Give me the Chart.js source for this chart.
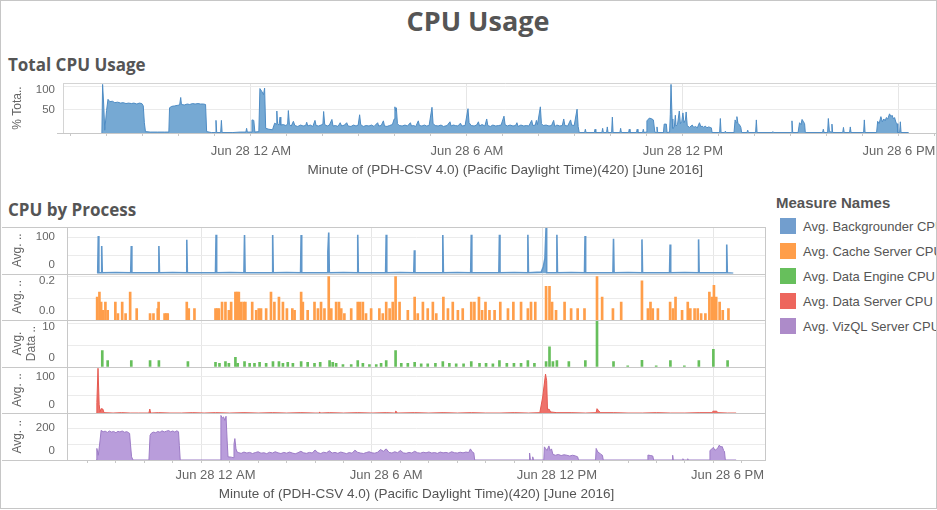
<!DOCTYPE html>
<html>
<head>
<meta charset="utf-8">
<title>CPU Usage</title>
<script src="https://cdn.jsdelivr.net/npm/chart.js@4.4.1/dist/chart.umd.min.js"></script>
<style>
  html, body { margin: 0; padding: 0; background: #fff; }
  #page { position: relative; width: 937px; height: 510px; overflow: hidden; font-family: "Liberation Sans", Arial, sans-serif; color: #555; }
  #edge { position: absolute; left: 0; top: 0; width: 937px; height: 509px; box-sizing: border-box; border: 1px solid #c6c6c6; pointer-events: none; }
  .title { position: absolute; font-family: "Open Sans", sans-serif; font-weight: bold; color: #555; white-space: nowrap; }
  #mainTitle { left: 0; width: 956px; top: 4px; text-align: center; font-size: 27px; line-height: 34px; }
  #totalTitle { left: 8px; top: 55px; font-size: 17px; line-height: 20px; }
  #procTitle { left: 8px; top: 200px; font-size: 17px; line-height: 20px; }
  canvas { position: absolute; left: 0; }
  #totalChart { top: 70px; }
  #procChart { top: 220px; }
  #legend { position: absolute; left: 776px; top: 194px; width: 200px; white-space: nowrap; }
  #legend .head { font-weight: bold; font-size: 15px; line-height: 18px; color: #555; }
  #legend .item { position: relative; height: 25px; line-height: 25px; font-size: 13px; color: #555; padding-left: 27px; }
  #legend .sw { position: absolute; left: 4px; top: 4px; width: 16px; height: 16px; }
  #legend .first { margin-top: 2px; }
</style>
</head>
<body>
<div id="page">
  <div id="mainTitle" class="title">CPU Usage</div>
  <div id="totalTitle" class="title">Total CPU Usage</div>
  <canvas id="totalChart" width="950" height="110"></canvas>
  <div id="procTitle" class="title">CPU by Process</div>
  <canvas id="procChart" width="770" height="290"></canvas>
  <div id="legend"></div>
  <div id="edge"></div>
</div>
<script>
// --- DATA (x = hours from Jun 28 12 AM, y = value) ---
const xMin = -5.22;
const xMax = 19.35;
const hourTicks = [-5, -4, -3, -2, -1, 0, 1, 2, 3, 4, 5, 6, 7, 8, 9, 10, 11, 12, 13, 14, 15, 16, 17, 18, 19];
const majorHours = [0, 6, 12, 18];
const majorLabels = ['Jun 28 12 AM', 'Jun 28 6 AM', 'Jun 28 12 PM', 'Jun 28 6 PM'];
const xTitle = 'Minute of (PDH-CSV 4.0) (Pacific Daylight Time)(420) [June 2016]';
const seriesNames = ['Avg. Backgrounder CPU', 'Avg. Cache Server CPU', 'Avg. Data Engine CPU', 'Avg. Data Server CPU', 'Avg. VizQL Server CPU'];

const totalCpu = [
  [-4.14, 0], [-4.12, 104], [-4.09, 62], [-4.06, 6], [-4.01, 48], [-3.97, 72], [-3.92, 67], [-3.85, 68],
  [-3.78, 65], [-3.7, 66], [-3.62, 64], [-3.55, 65], [-3.47, 63], [-3.4, 64], [-3.32, 63], [-3.25, 64],
  [-3.17, 62], [-3.1, 64], [-3.03, 63], [-2.99, 58], [-2.96, 22], [-2.93, 3], [-2.8, 2], [-2.6, 2],
  [-2.4, 2], [-2.28, 2], [-2.26, 54], [-2.2, 57], [-2.12, 58], [-2.05, 59], [-1.98, 60], [-1.95, 76],
  [-1.93, 61], [-1.85, 60], [-1.77, 62], [-1.7, 61], [-1.62, 63], [-1.55, 62], [-1.47, 63], [-1.4, 62],
  [-1.32, 62], [-1.26, 61], [-1.23, 3], [-1.1, 1], [-0.99, 1], [-0.97, 27], [-0.95, 1], [-0.84, 1],
  [-0.82, 27], [-0.8, 1], [-0.5, 1], [-0.3, 2], [-0.14, 2], [-0.12, 10], [-0.1, 2], [0.01, 2],
  [0.03, 28], [0.08, 27], [0.11, 2], [0.22, 3], [0.25, 95], [0.31, 88], [0.35, 82], [0.38, 96],
  [0.41, 10], [0.5, 8], [0.6, 7], [0.66, 21], [0.7, 19], [0.72, 47], [0.74, 20], [0.78, 17],
  [0.81, 34], [0.83, 17], [0.9, 18], [0.97, 16], [1.02, 19], [1.04, 48], [1.07, 18], [1.12, 15],
  [1.18, 25], [1.22, 16], [1.3, 14], [1.38, 17], [1.45, 15], [1.52, 16], [1.55, 23], [1.58, 15],
  [1.65, 17], [1.72, 14], [1.78, 27], [1.81, 16], [1.88, 15], [1.95, 17], [2.0, 19], [2.02, 46],
  [2.05, 18], [2.12, 15], [2.18, 17], [2.25, 29], [2.28, 15], [2.35, 16], [2.42, 14], [2.48, 22],
  [2.52, 15], [2.6, 17], [2.66, 22], [2.7, 15], [2.78, 14], [2.85, 17], [2.92, 15], [2.98, 17],
  [3.02, 39], [3.05, 18], [3.12, 14], [3.2, 16], [3.28, 15], [3.35, 17], [3.42, 14], [3.52, 22],
  [3.55, 15], [3.62, 16], [3.68, 26], [3.71, 15], [3.78, 14], [3.85, 16], [3.93, 18], [3.98, 30],
  [4.0, 56], [4.02, 48], [4.04, 54], [4.07, 20], [4.12, 16], [4.2, 15], [4.28, 17], [4.35, 15],
  [4.43, 22], [4.46, 15], [4.52, 16], [4.58, 14], [4.65, 26], [4.68, 16], [4.75, 15], [4.82, 17],
  [4.88, 15], [4.95, 16], [5.03, 55], [5.06, 20], [5.12, 16], [5.2, 15], [5.28, 17], [5.35, 14],
  [5.45, 16], [5.53, 24], [5.56, 15], [5.62, 17], [5.68, 16], [5.75, 15], [5.82, 21], [5.86, 15],
  [5.95, 16], [6.03, 52], [6.06, 22], [6.12, 16], [6.2, 15], [6.27, 17], [6.32, 24], [6.35, 15],
  [6.42, 18], [6.5, 15], [6.55, 30], [6.58, 16], [6.65, 14], [6.72, 17], [6.8, 15], [6.88, 16],
  [6.95, 17], [7.03, 36], [7.06, 18], [7.12, 15], [7.2, 17], [7.28, 15], [7.35, 16], [7.39, 22],
  [7.42, 14], [7.5, 17], [7.58, 15], [7.65, 16], [7.72, 15], [7.8, 27], [7.83, 16], [7.9, 17],
  [7.93, 27], [7.96, 18], [8.04, 56], [8.07, 20], [8.12, 16], [8.2, 17], [8.28, 15], [8.35, 16],
  [8.41, 27], [8.44, 14], [8.5, 17], [8.58, 15], [8.65, 16], [8.69, 30], [8.72, 16], [8.8, 15],
  [8.88, 28], [8.91, 17], [8.98, 16], [9.06, 51], [9.09, 14], [9.12, 1], [9.27, 1], [9.29, 8],
  [9.31, 1], [9.54, 1], [9.56, 8], [9.58, 1], [9.75, 1], [9.77, 10], [9.79, 1], [9.88, 1],
  [9.9, 13], [9.92, 1], [10.02, 1], [10.04, 34], [10.06, 1], [10.25, 1], [10.27, 10], [10.29, 1],
  [10.49, 1], [10.51, 8], [10.53, 1], [10.71, 1], [10.73, 8], [10.75, 1], [10.88, 1], [10.9, 8],
  [10.92, 1], [10.98, 2], [11.0, 26], [11.07, 32], [11.14, 30], [11.18, 28], [11.22, 2], [11.26, 1],
  [11.28, 13], [11.3, 1], [11.46, 1], [11.48, 19], [11.54, 19], [11.56, 1], [11.63, 2], [11.65, 40],
  [11.67, 104], [11.7, 30], [11.72, 10], [11.76, 12], [11.79, 38], [11.81, 15], [11.85, 18], [11.9, 47],
  [11.93, 20], [11.97, 25], [12.0, 43], [12.03, 22], [12.07, 28], [12.09, 45], [12.12, 16], [12.18, 12],
  [12.26, 17], [12.3, 12], [12.35, 14], [12.4, 11], [12.46, 22], [12.5, 13], [12.53, 15], [12.58, 12],
  [12.62, 15], [12.67, 11], [12.71, 13], [12.76, 12], [12.79, 11], [12.81, 1], [13.02, 1], [13.04, 31],
  [13.06, 1], [13.16, 1], [13.18, 4], [13.2, 1], [13.42, 1], [13.45, 28], [13.48, 22], [13.5, 35],
  [13.53, 20], [13.57, 18], [13.61, 12], [13.63, 1], [13.78, 1], [13.8, 6], [13.82, 1], [14.02, 1],
  [14.04, 28], [14.06, 1], [14.48, 1], [14.5, 3], [14.52, 1], [15.01, 1], [15.03, 26], [15.05, 1],
  [15.2, 1], [15.24, 22], [15.28, 18], [15.31, 29], [15.35, 24], [15.38, 20], [15.4, 1], [15.88, 1],
  [15.9, 8], [15.92, 1], [16.02, 1], [16.04, 31], [16.07, 3], [16.12, 2], [16.14, 19], [16.16, 1],
  [16.44, 1], [16.46, 12], [16.48, 1], [16.63, 1], [16.65, 13], [16.67, 1], [17.02, 1], [17.04, 28],
  [17.06, 1], [17.38, 1], [17.41, 25], [17.45, 20], [17.5, 35], [17.54, 24], [17.58, 30], [17.62, 26],
  [17.65, 33], [17.69, 30], [17.74, 41], [17.78, 35], [17.81, 38], [17.85, 30], [17.88, 33], [17.92, 22],
  [17.95, 20], [17.97, 1], [18.02, 1], [18.04, 24], [18.06, 1], [18.27, 1]
];

const backgrounderCpu = [
  [-4.16, 0], [-4.14, 2], [-4.12, 103], [-4.1, 2], [-4.02, 2], [-4.0, 76], [-3.98, 2], [-3.5, 3],
  [-2.98, 2], [-2.96, 76], [-2.94, 2], [-2.5, 2], [-2.01, 2], [-1.99, 76], [-1.97, 2], [-1.5, 3],
  [-1.03, 2], [-1.01, 93], [-0.99, 2], [-0.5, 2], [0.0, 2], [0.02, 107], [0.04, 2], [0.5, 3],
  [1.0, 2], [1.02, 106], [1.04, 2], [1.5, 2], [1.99, 2], [2.01, 106], [2.03, 2], [2.5, 3],
  [2.99, 2], [3.01, 106], [3.03, 2], [3.5, 2], [3.93, 2], [3.95, 60], [3.98, 113], [4.0, 2],
  [4.5, 3], [4.98, 2], [5.0, 107], [5.02, 2], [5.5, 2], [5.98, 2], [6.0, 107], [6.02, 2],
  [6.5, 3], [6.97, 2], [6.99, 64], [7.01, 2], [7.5, 2], [7.97, 2], [7.99, 106], [8.01, 2],
  [8.5, 3], [8.97, 2], [8.99, 107], [9.01, 2], [9.5, 2], [9.96, 2], [9.98, 107], [10.0, 2],
  [10.5, 3], [10.96, 2], [10.98, 107], [11.0, 2], [11.45, 4], [11.52, 18], [11.58, 42], [11.62, 126],
  [11.64, 2], [11.98, 2], [12.0, 107], [12.02, 2], [12.5, 3], [12.97, 2], [12.99, 103], [13.01, 2],
  [13.5, 2], [13.97, 2], [13.99, 96], [14.01, 2], [14.5, 3], [14.97, 2], [14.99, 94], [15.01, 2],
  [15.5, 2], [15.96, 2], [15.98, 80], [16.0, 2], [16.5, 3], [16.96, 2], [16.98, 94], [17.0, 2],
  [17.5, 2], [17.95, 2], [17.97, 80], [17.99, 2], [18.2, 1]
];

const cacheServerCpu = [
  [-4.16, 0.106], [-4.08, 0.129], [-4.02, 0.083], [-3.96, 0.045], [-3.87, 0.083], [-3.79, 0.045],
  [-3.52, 0.083], [-3.43, 0.03], [-3.28, 0.083], [-3.16, 0.03], [-3.0, 0.129], [-2.77, 0.053],
  [-2.3, 0.03], [-2.18, 0.03], [-2.03, 0.053], [-2.0, 0.083], [-1.79, 0.03], [-1.73, 0.03],
  [-1.68, 0.03], [-1.01, 0.083], [-0.94, 0.053], [-0.74, 0.053], [0.0, 0.053], [0.06, 0.053],
  [0.12, 0.053], [0.23, 0.083], [0.35, 0.083], [0.47, 0.045], [0.55, 0.083], [0.7, 0.129],
  [0.76, 0.129], [0.82, 0.129], [0.9, 0.083], [0.99, 0.083], [1.05, 0.083], [1.29, 0.083],
  [1.43, 0.045], [1.52, 0.053], [1.6, 0.053], [1.78, 0.053], [1.95, 0.129], [2.07, 0.083],
  [2.23, 0.106], [2.37, 0.083], [2.51, 0.053], [2.7, 0.053], [2.78, 0.045], [3.01, 0.129],
  [3.07, 0.083], [3.24, 0.045], [3.48, 0.083], [3.6, 0.053], [3.71, 0.083], [3.83, 0.053],
  [3.98, 0.2], [4.07, 0.053], [4.24, 0.083], [4.34, 0.083], [4.42, 0.053], [4.53, 0.03],
  [4.77, 0.053], [5.0, 0.083], [5.08, 0.083], [5.18, 0.083], [5.29, 0.03], [5.47, 0.053],
  [5.76, 0.053], [5.88, 0.03], [6.0, 0.083], [6.12, 0.053], [6.23, 0.083], [6.33, 0.2],
  [6.47, 0.083], [6.76, 0.045], [7.0, 0.106], [7.11, 0.03], [7.29, 0.083], [7.46, 0.053],
  [7.64, 0.083], [7.76, 0.03], [8.01, 0.106], [8.17, 0.053], [8.34, 0.083], [8.52, 0.045],
  [8.69, 0.053], [8.99, 0.083], [9.1, 0.083], [9.26, 0.106], [9.37, 0.045], [9.49, 0.083],
  [9.63, 0.045], [9.81, 0.045], [10.01, 0.083], [10.28, 0.053], [10.47, 0.083], [10.74, 0.083],
  [10.98, 0.053], [11.09, 0.083], [11.24, 0.083], [11.62, 0.155], [11.74, 0.155], [11.83, 0.083],
  [11.97, 0.045], [12.27, 0.083], [12.5, 0.053], [12.73, 0.053], [12.97, 0.053], [13.41, 0.2],
  [13.59, 0.106], [13.97, 0.053], [14.26, 0.083], [14.99, 0.18], [15.2, 0.053], [15.29, 0.083],
  [15.37, 0.053], [15.55, 0.053], [15.98, 0.083], [16.08, 0.053], [16.17, 0.106], [16.4, 0.045],
  [16.6, 0.083], [16.69, 0.053], [16.84, 0.053], [16.95, 0.053], [17.07, 0.03], [17.22, 0.03],
  [17.36, 0.129], [17.45, 0.106], [17.52, 0.16], [17.6, 0.106], [17.72, 0.083], [17.83, 0.045],
  [18.03, 0.053]
];

const dataEngineCpu = [
  [-3.98, 3.7], [-3.79, 1.4], [-2.96, 1.4], [-2.3, 1.4], [-1.99, 1.4], [-0.97, 1.2], [0.0, 1.0],
  [0.14, 0.8], [0.35, 1.2], [0.47, 0.8], [0.7, 2.2], [0.78, 0.8], [1.02, 1.2], [1.2, 0.8],
  [1.37, 0.8], [1.55, 1.0], [1.78, 0.8], [2.02, 1.2], [2.23, 1.2], [2.37, 0.8], [2.54, 1.0],
  [2.72, 0.8], [3.01, 1.2], [3.24, 1.0], [3.48, 0.8], [3.68, 1.0], [4.01, 1.4], [4.12, 1.0],
  [4.24, 0.8], [4.48, 0.5], [4.77, 0.5], [5.0, 1.4], [5.18, 0.8], [5.41, 0.5], [5.65, 0.5],
  [5.82, 0.8], [6.0, 1.4], [6.33, 3.7], [6.53, 0.8], [6.76, 0.8], [7.0, 1.0], [7.23, 0.7],
  [7.46, 0.7], [7.73, 0.8], [7.99, 1.2], [8.22, 0.8], [8.46, 0.7], [8.72, 0.7], [8.99, 1.2],
  [9.28, 0.8], [9.51, 0.8], [9.75, 0.7], [9.98, 1.4], [10.24, 0.8], [10.49, 0.8], [10.74, 0.8],
  [10.98, 1.4], [11.21, 0.8], [11.62, 1.2], [11.74, 4.6], [11.86, 1.2], [12.0, 1.4], [12.42, 1.2],
  [13.0, 1.4], [13.41, 10.6], [13.99, 1.2], [14.49, 0.2], [14.99, 1.5], [15.49, 0.2], [15.99, 1.4],
  [16.48, 0.2], [16.99, 1.4], [17.5, 4.0], [18.0, 1.4]
];

const dataServerCpu = [
  [-4.2, 0], [-4.17, 30], [-4.13, 124], [-4.09, 25], [-4.06, 4], [-4.02, 13], [-3.96, 12], [-3.92, 2],
  [-3.6, 1], [-3.3, 2], [-3.0, 1], [-2.7, 1], [-2.34, 1], [-2.31, 12], [-2.28, 1], [-2.0, 2],
  [-1.6, 1], [-1.2, 1], [-0.8, 2], [-0.4, 1], [0.0, 2], [0.5, 1], [1.0, 2], [1.5, 1],
  [2.0, 2], [2.5, 1], [3.0, 2], [3.5, 1], [3.64, 1], [3.66, 4], [3.68, 1], [4.0, 2],
  [4.5, 1], [5.0, 2], [5.5, 1], [6.0, 2], [6.31, 1], [6.33, 6], [6.36, 5], [6.38, 1],
  [7.0, 2], [7.5, 1], [8.0, 2], [8.5, 1], [9.0, 2], [9.5, 1], [10.0, 1], [10.5, 2],
  [11.0, 1], [11.4, 2], [11.5, 45], [11.6, 108], [11.64, 90], [11.67, 10], [11.72, 12], [11.78, 4],
  [12.0, 2], [12.5, 2], [13.0, 1], [13.38, 2], [13.41, 13], [13.46, 8], [13.5, 5], [13.54, 2],
  [14.0, 2], [14.5, 1], [15.0, 1], [15.5, 2], [16.0, 1], [16.5, 1], [17.0, 2], [17.46, 2],
  [17.48, 6], [17.62, 6], [17.65, 2], [18.0, 1], [18.3, 1]
];

const vizqlServerCpu = [
  [-4.2, 0], [-4.17, 73], [-4.12, 30], [-4.06, 120], [-4.02, 187], [-3.95, 178], [-3.88, 182], [-3.8, 174],
  [-3.73, 183], [-3.66, 176], [-3.58, 180], [-3.5, 172], [-3.43, 181], [-3.36, 177], [-3.28, 183], [-3.2, 175],
  [-3.12, 179], [-3.05, 172], [-3.02, 168], [-2.99, 100], [-2.95, 20], [-2.9, 0], [-2.34, 0], [-2.3, 156],
  [-2.25, 170], [-2.18, 176], [-2.1, 172], [-2.03, 180], [-1.95, 175], [-1.88, 184], [-1.8, 177], [-1.72, 182],
  [-1.65, 186], [-1.58, 178], [-1.5, 183], [-1.43, 176], [-1.36, 184], [-1.3, 178], [-1.27, 90], [-1.24, 0],
  [0.16, 0], [0.19, 281], [0.24, 265], [0.28, 272], [0.33, 250], [0.37, 276], [0.41, 120], [0.44, 20],
  [0.55, 18], [0.62, 15], [0.65, 100], [0.68, 135], [0.72, 70], [0.76, 50], [0.82, 46], [0.9, 42],
  [1.0, 50], [1.1, 44], [1.2, 48], [1.3, 41], [1.4, 47], [1.5, 52], [1.6, 43], [1.7, 46],
  [1.8, 40], [1.9, 49], [2.0, 44], [2.1, 52], [2.2, 45], [2.3, 41], [2.4, 48], [2.5, 43],
  [2.6, 50], [2.7, 44], [2.8, 39], [2.9, 46], [3.0, 55], [3.1, 45], [3.2, 42], [3.3, 48],
  [3.4, 44], [3.5, 63], [3.6, 46], [3.7, 41], [3.8, 49], [3.9, 45], [4.0, 58], [4.1, 44],
  [4.2, 48], [4.3, 42], [4.4, 50], [4.5, 46], [4.6, 40], [4.7, 47], [4.8, 43], [4.9, 62],
  [5.0, 48], [5.1, 44], [5.2, 41], [5.3, 47], [5.4, 52], [5.5, 45], [5.6, 43], [5.7, 49],
  [5.8, 66], [5.9, 55], [6.0, 70], [6.1, 48], [6.2, 44], [6.3, 52], [6.4, 46], [6.5, 60],
  [6.6, 45], [6.7, 42], [6.8, 48], [6.9, 44], [7.0, 55], [7.1, 46], [7.2, 43], [7.3, 49],
  [7.4, 45], [7.5, 51], [7.6, 44], [7.7, 47], [7.8, 42], [7.9, 50], [8.0, 45], [8.1, 48],
  [8.2, 43], [8.3, 52], [8.4, 46], [8.5, 44], [8.6, 49], [8.7, 45], [8.8, 50], [8.9, 47],
  [8.96, 70], [9.02, 52], [9.08, 45], [9.11, 0], [11.02, 0], [11.04, 44], [11.07, 0], [11.13, 0],
  [11.15, 20], [11.18, 0], [11.54, 0], [11.56, 83], [11.6, 73], [11.65, 60], [11.72, 89], [11.76, 60],
  [11.81, 70], [11.86, 35], [11.95, 30], [12.05, 35], [12.15, 28], [12.25, 33], [12.35, 30], [12.45, 25],
  [12.55, 30], [12.65, 26], [12.73, 20], [12.76, 0], [13.36, 0], [13.38, 73], [13.44, 50], [13.5, 44],
  [13.55, 35], [13.6, 30], [13.63, 0], [15.18, 0], [15.2, 31], [15.3, 28], [15.37, 25], [15.4, 0],
  [16.05, 0], [16.07, 30], [16.09, 0], [16.41, 0], [16.43, 8], [16.45, 0], [16.58, 0], [16.6, 8],
  [16.62, 0], [17.36, 0], [17.38, 60], [17.45, 70], [17.5, 80], [17.55, 62], [17.6, 65], [17.66, 78],
  [17.71, 94], [17.76, 82], [17.81, 85], [17.86, 60], [17.89, 55], [17.92, 0], [18.3, 0]
];

// --- STYLE ---
const palette = ['#729ece', '#ff9e4a', '#67bf5c', '#ed665d', '#ad8bc9'];
const gridColor = '#ebebeb';
const frameColor = '#c8c8c8';

Chart.defaults.font.family = '"Liberation Sans", Arial, sans-serif';
Chart.defaults.color = '#666';
Chart.defaults.animation = false;

const toXY = pts => pts.map(([x, y]) => ({ x, y }));
const crisp = v => Math.round(v) + 0.5;

function hourAxis(tickPad, titlePad, height) {
    return {
        type: 'linear',
        min: xMin,
        max: xMax,
        offset: false,
        afterBuildTicks: s => { s.ticks = hourTicks.map(v => ({ value: v })); },
        afterFit: s => { s.height = height; },
        grid: {
            color: c => majorHours.includes(c.tick && c.tick.value) ? '#e6e6e6' : 'rgba(0,0,0,0)',
            tickColor: frameColor,
            tickLength: 3
        },
        border: { display: false },
        ticks: {
            autoSkip: false,
            maxRotation: 0,
            minRotation: 0,
            padding: tickPad,
            color: '#666',
            font: { size: 13 },
            callback: v => {
                const i = majorHours.indexOf(v);
                return i < 0 ? '' : majorLabels[i];
            }
        },
        title: { display: true, text: xTitle, color: '#555', font: { size: 13.5 }, padding: { top: 0, bottom: titlePad } }
    };
}

function valueAxis(max, gridValues, title, width, extra) {
    return Object.assign({
        type: 'linear',
        position: 'left',
        min: 0,
        max: max,
        afterBuildTicks: s => { s.ticks = gridValues.map(v => ({ value: v })); },
        afterFit: s => { s.width = width; },
        grid: { color: gridColor, drawTicks: false },
        border: { display: false },
        ticks: { display: false },
        title: { display: true, text: title, color: '#666', font: { size: 12 }, padding: { top: 10, bottom: 0 } }
    }, extra || {});
}

// y tick labels kept inside each panel, like the original
function drawValueLabels(chart, labels) {
    const ctx = chart.ctx;
    ctx.font = '11.5px "Liberation Sans", Arial, sans-serif';
    ctx.fillStyle = '#666';
    ctx.textAlign = 'right';
    ctx.textBaseline = 'middle';
    labels.forEach(([id, texts]) => {
        const s = chart.scales[id];
        texts.forEach(t => {
            const y = Math.min(Math.max(s.getPixelForValue(Number(t)), s.top + 7), s.bottom - 9);
            ctx.fillText(t, 55, y);
        });
    });
}

const totalFrame = {
    id: 'totalFrame',
    afterDraw(chart) {
        const { ctx, chartArea: a } = chart;
        ctx.save();
        drawValueLabels(chart, [['y', ['50', '100']]]);
        ctx.strokeStyle = '#d4d4d4';
        ctx.lineWidth = 1;
        ctx.beginPath();
        ctx.moveTo(a.left, crisp(a.top)); ctx.lineTo(a.right, crisp(a.top));
        ctx.moveTo(crisp(a.left), a.top); ctx.lineTo(crisp(a.left), a.bottom);
        ctx.stroke();
        ctx.strokeStyle = frameColor;
        ctx.beginPath();
        ctx.moveTo(a.left - 6, crisp(a.bottom)); ctx.lineTo(a.right, crisp(a.bottom));
        ctx.stroke();
        ctx.restore();
    }
};

const procFrame = {
    id: 'procFrame',
    afterDraw(chart) {
        const { ctx, chartArea: a } = chart;
        ctx.save();
        drawValueLabels(chart, [
            ['y1', ['0', '100']], ['y2', ['0.0', '0.2']], ['y3', ['0', '10']], ['y4', ['0', '100']], ['y5', ['0', '200']]
        ]);
        ctx.strokeStyle = frameColor;
        ctx.lineWidth = 1;
        ctx.beginPath();
        ['y1', 'y2', 'y3', 'y4', 'y5'].forEach((id, i) => {
            const s = chart.scales[id];
            if (i === 0) { ctx.moveTo(2, crisp(s.top)); ctx.lineTo(a.right, crisp(s.top)); }
            ctx.moveTo(2, crisp(s.bottom)); ctx.lineTo(a.right, crisp(s.bottom));
        });
        ctx.moveTo(crisp(a.left), a.top); ctx.lineTo(crisp(a.left), a.bottom);
        ctx.moveTo(crisp(a.right) - 1, a.top); ctx.lineTo(crisp(a.right) - 1, a.bottom);
        ctx.stroke();
        ctx.restore();
    }
};

function areaSet(pts, axis, fill, line, width) {
    return { type: 'line', data: toXY(pts), yAxisID: axis, backgroundColor: fill, borderColor: line,
             borderWidth: width || 1, pointRadius: 0, tension: 0, fill: 'origin' };
}
function barSet(pts, axis, color) {
    return { type: 'bar', data: toXY(pts), yAxisID: axis, backgroundColor: color, barThickness: 2, grouped: false };
}

// --- TOTAL CPU ---
new Chart(document.getElementById('totalChart'), {
    type: 'line',
    data: { datasets: [areaSet(totalCpu, 'y', '#76a9d3', '#4e8cc4')] },
    options: {
        responsive: false,
        layout: { padding: { left: 0, top: 13, right: 2.5, bottom: 0 } },
        plugins: { legend: { display: false }, tooltip: { enabled: false } },
        scales: {
            x: hourAxis(8, 1.9, 47),
            y: valueAxis(107, [50, 100], '% Tota..', 63)
        }
    },
    plugins: [totalFrame]
});

// --- CPU BY PROCESS ---
// stacked left axes are laid out last-defined on top, so list them bottom-up
const stacked = { stack: 'proc', stackWeight: 1 };
new Chart(document.getElementById('procChart'), {
    type: 'line',
    data: {
        datasets: [
            areaSet(backgrounderCpu, 'y1', '#7aaad4', '#5f97cb', 1.6),
            barSet(cacheServerCpu, 'y2', palette[1]),
            barSet(dataEngineCpu, 'y3', palette[2]),
            areaSet(dataServerCpu, 'y4', '#ee716a', '#e55a51'),
            areaSet(vizqlServerCpu, 'y5', '#b99ddb', '#9d7cc6')
        ]
    },
    options: {
        responsive: false,
        layout: { padding: { left: 0, top: 7, right: 4, bottom: 0 } },
        plugins: { legend: { display: false }, tooltip: { enabled: false } },
        scales: {
            x: hourAxis(4.5, 7.9, 50),
            y5: valueAxis(294, [100, 200], 'Avg. ..', 67, stacked),
            y4: valueAxis(128, [50, 100], 'Avg. ..', 67, stacked),
            y3: valueAxis(10.7, [5, 10], ['Avg.', 'Data ..'], 67, stacked),
            y2: valueAxis(0.2136, [0.1, 0.2], 'Avg. ..', 67, stacked),
            y1: valueAxis(128, [50, 100], 'Avg. ..', 67, stacked)
        }
    },
    plugins: [procFrame]
});

// --- LEGEND ---
const legend = document.getElementById('legend');
legend.innerHTML = '<div class="head">Measure Names</div>' + seriesNames.map((name, i) =>
    `<div class="item${i === 0 ? ' first' : ''}"><span class="sw" style="background:${palette[i]}"></span>${name}</div>`
).join('');
</script>
</body>
</html>
